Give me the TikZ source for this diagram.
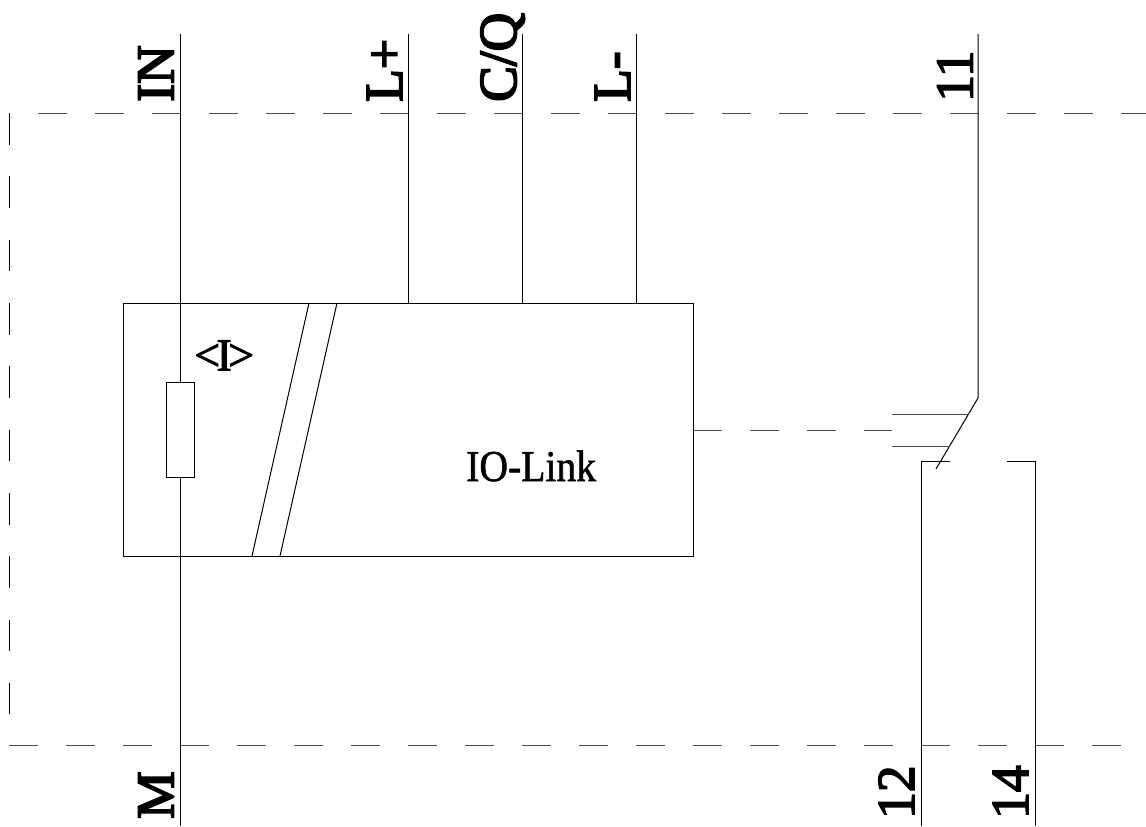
\documentclass[tikz,border=0pt]{standalone}
\usepackage{fontspec}
\setmainfont{Liberation Serif}
\newfontfamily\lblfont[FakeBold=3.5]{Liberation Serif}
\newfontfamily\digitfont[FakeBold=3]{Liberation Serif}
\newfontfamily\iofont[FakeStretch=0.9,FakeBold=1.2]{Liberation Serif}
\newfontfamily\ifont[FakeBold=2]{Liberation Serif}
\tikzset{
  px/.style={x=0.75pt,y=-0.75pt},
  wire/.style={line width=0.75pt,black},
  dashh/.style={line width=0.75pt,black!70,dash pattern=on 21.375pt off 21.375pt},
  dashv/.style={line width=0.75pt,black,dash pattern=on 23.75pt off 23.75pt},
  biglbl/.style={rotate=90,anchor=base west,inner sep=0pt,font=\lblfont\fontsize{40}{40}\selectfont},
  diglbl/.style={rotate=90,anchor=base west,inner sep=0pt,font=\digitfont\fontsize{40}{40}\selectfont},
  ilbl/.style={anchor=base west,inner sep=0pt,font=\ifont\fontsize{34.5}{34.5}\selectfont},
  iolbl/.style={anchor=base west,inner sep=0pt,font=\iofont\fontsize{33}{33}\selectfont}
}
\begin{document}
\begin{tikzpicture}[px]
\useasboundingbox (0,0) rectangle (1146,826);
% coordinates
\coordinate (inT) at (180,34); \coordinate (inB) at (180,826);
\coordinate (lpT) at (408.5,34); \coordinate (lpB) at (408.5,303);
\coordinate (cqT) at (522.5,34); \coordinate (cqB) at (522.5,303);
\coordinate (lmT) at (636.5,34); \coordinate (lmB) at (636.5,303);
\coordinate (pT) at (978,34); \coordinate (pB) at (978,398);
\coordinate (tip) at (936,469);
\coordinate (t1) at (892,414); \coordinate (t1e) at (969,414);
\coordinate (t2) at (892,446); \coordinate (t2e) at (950,446);
\coordinate (c12a) at (950,461.5); \coordinate (c12b) at (921.5,461.5); \coordinate (c12c) at (921.5,826);
\coordinate (c14a) at (1007,461.5); \coordinate (c14b) at (1035.5,461.5); \coordinate (c14c) at (1035.5,826);
% dashed frame
\coordinate (topL) at (38,113.5); \coordinate (topR) at (1146,113.5);
\coordinate (botL) at (9,745.5); \coordinate (botR) at (1146,745.5);
\coordinate (lefT) at (9,113); \coordinate (lefB) at (9,714);
\coordinate (actL) at (693,430); \coordinate (actR) at (892,430);
\draw[dashh] (topL) -- (topR);
\draw[dashh] (botL) -- (botR);
\draw[dashv] (lefT) -- (lefB);
\draw[dashh] (actL) -- (actR);
% wires
\draw[wire] (inT) -- (inB);
\draw[wire] (lpT) -- (lpB);
\draw[wire] (cqT) -- (cqB);
\draw[wire] (lmT) -- (lmB);
\draw[wire] (pT) -- (pB) -- (tip);
\draw[wire,black!70] (t1) -- (t1e);
\draw[wire,black!70] (t2) -- (t2e);
\draw[wire] (c12a) -- (c12b) -- (c12c);
\draw[wire] (c14a) -- (c14b) -- (c14c);
% box
\draw[wire] (123.5,303) rectangle (693,556);
\draw[wire] (309,303) -- (252,556);
\draw[wire] (337,303) -- (280,556);
\draw[wire,fill=white] (166,382) rectangle (194.5,477.5);
% labels
\node[biglbl] (lIN) at (173.5,102) {IN};
\node[biglbl] (lLp) at (402,102) {L+};
\node[biglbl] (lCQ) at (516,102) {C/Q};
\node[biglbl] (lLm) at (630,102) {L-};
\node[diglbl] (l11) at (972.5,102) {11};
\node[biglbl] (lM) at (173.5,819) {M};
\node[diglbl] (l12) at (914,819) {12};
\node[diglbl] (l14) at (1028,819) {14};
\node[ilbl] (lI) at (194,370.5) {<\kern-0.08em I\kern-0.08em >};
\node[iolbl] (lIO) at (466,481) {IO-Link};
\end{tikzpicture}
\end{document}
